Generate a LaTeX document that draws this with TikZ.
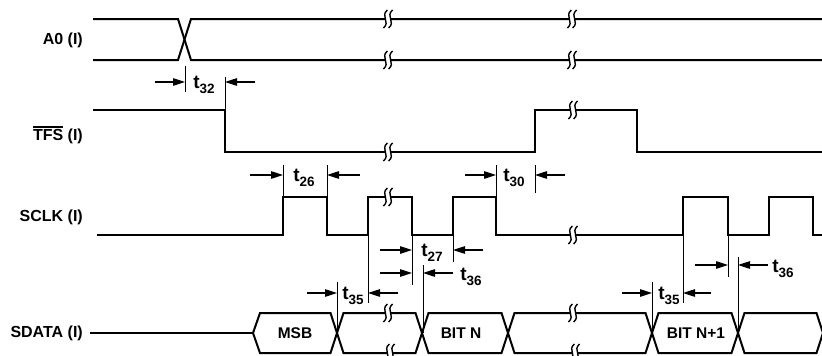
\documentclass[tikz,border=0pt]{standalone}
\usepackage{fontspec}
\setmainfont{Liberation Sans}
\usetikzlibrary{arrows.meta}
\newcommand\tsub[1]{{\fontsize{19}{19}\selectfont t}\raisebox{-4.5pt}{\fontsize{13.5}{13.5}\selectfont #1}}
\newcommand\ovl[1]{{\setbox0\hbox{#1}\rlap{\rule[\dimexpr\ht0+1.6pt\relax]{\wd0}{1.2pt}}\box0\relax}}
\begin{document}
\begin{tikzpicture}[x=1pt,y=-1pt,
  sig/.style={line width=2pt, line join=miter},
  guide/.style={line width=1pt},
  dimarrow/.style={line width=1.1pt,-{Triangle[length=12pt,width=7.5pt]}},
  lbl/.style={font=\fontsize{16}{16}\selectfont\bfseries, anchor=east, inner sep=0pt},
  buslbl/.style={font=\fontsize{15.5}{15.5}\selectfont\bfseries, inner sep=0pt},
  tl/.style={font=\bfseries, inner sep=0pt},
  brk/.pic={
    \fill[white] (-2.6,-2.6) rectangle (2.6,2.6);
    \foreach \d in {-2.6,2.6}
      \draw[line width=1.4pt] (\d+2,-9) .. controls (\d-5.5,-3) and (\d+5.5,3) .. (\d-2,9);
  }]
\useasboundingbox (0,0) rectangle (822,356);
\clip (0,0) rectangle (822,356);

% signal names
\node[lbl] (a0) at (83,40) {A0 (I)};
\node[lbl] (tfs) at (83,135) {\ovl{TFS}\ (I)};
\node[lbl] (sclk) at (83,217) {SCLK (I)};
\node[lbl] (sdata) at (83,333) {SDATA (I)};

% A0
\draw[sig] (93,19) -- (178,19) -- (191,60) -- (822,60);
\draw[sig] (93,60) -- (178,60) -- (191,19) -- (822,19);

% TFS
\draw[sig] (93,110) -- (225,110) -- (225,152) -- (535,152) -- (535,110) -- (637,110) -- (637,152) -- (822,152);

% SCLK
\draw[sig] (97,235) -- (283,235) -- (283,197) -- (327,197) -- (327,235) -- (368,235) -- (368,197) -- (412,197) -- (412,235) -- (453,235) -- (453,197) -- (496,197) -- (496,235) -- (683,235) -- (683,197) -- (728,197) -- (728,235) -- (769,235) -- (769,197) -- (813,197) -- (813,235) -- (822,235);

% SDATA
\draw[sig] (sdata.east) ++(7,0) -- (253,333);
\draw[sig] (253,333) -- (260,313) -- (330.5,313) -- (343.5,353) -- (415.5,353) -- (428.5,313) -- (501.5,313) -- (514.5,353) -- (645.5,353) -- (658.5,313) -- (731.5,313) -- (744.5,353) -- (816.5,353) -- (829.5,313);
\draw[sig] (253,333) -- (260,353) -- (330.5,353) -- (343.5,313) -- (415.5,313) -- (428.5,353) -- (501.5,353) -- (514.5,313) -- (645.5,313) -- (658.5,353) -- (731.5,353) -- (744.5,313) -- (816.5,313) -- (829.5,353);
\node[buslbl] (msb) at (295,333) {MSB};
\node[buslbl] (bitn) at (461,333) {BIT N};
\node[buslbl] (bitn1) at (696,333) {BIT N+1};

% breaks
\foreach \p in {(388,19),(388,60),(572,19),(572,60),(388,152),(573,110),(388,197),(573,235),(388,313),(390,353),(573,313),(575,353)}
  \pic at \p {brk};

% t32
\draw[guide] (185,66) -- (185,92);
\draw[guide] (225,77) -- (225,110);
\draw[dimarrow] (155,82) -- (185,82);
\draw[dimarrow] (255,82) -- (225,82);
\node[tl] (t32) at (204,85) {\tsub{32}};

% t26
\draw[guide] (283,165) -- (283,197);
\draw[guide] (327,165) -- (327,197);
\draw[dimarrow] (250,175) -- (283,175);
\draw[dimarrow] (360,175) -- (327,175);
\node[tl] (t26) at (304,178) {\tsub{26}};

% t30
\draw[guide] (496,165) -- (496,197);
\draw[guide] (535,165) -- (535,193);
\draw[dimarrow] (465,175) -- (496,175);
\draw[dimarrow] (565,175) -- (535,175);
\node[tl] (t30) at (514,178) {\tsub{30}};

% t35 (first)
\draw[guide] (337,282) -- (337,333);
\draw[guide] (368,235) -- (368,303);
\draw[dimarrow] (307,293) -- (337,293);
\draw[dimarrow] (398,293) -- (368,293);
\node[tl] (t35a) at (353,296) {\tsub{35}};

% t27
\draw[guide] (412,235) -- (412,285);
\draw[guide] (453,235) -- (453,262);
\draw[dimarrow] (380,250) -- (412,250);
\draw[dimarrow] (483,250) -- (453,250);
\node[tl] (t27) at (432,253) {\tsub{27}};

% t36 (first)
\draw[guide] (423,265) -- (423,333);
\draw[dimarrow] (380,273) -- (412,273);
\draw[dimarrow] (453,273) -- (423,273);
\node[tl] (t36a) at (471,277) {\tsub{36}};

% t35 (second)
\draw[guide] (652,282) -- (652,333);
\draw[guide] (683,235) -- (683,303);
\draw[dimarrow] (622,293) -- (652,293);
\draw[dimarrow] (711,293) -- (683,293);
\node[tl] (t35b) at (669,296) {\tsub{35}};

% t36 (second)
\draw[guide] (728,235) -- (728,277);
\draw[guide] (738,257) -- (738,333);
\draw[dimarrow] (695,265) -- (728,265);
\draw[dimarrow] (768,265) -- (738,265);
\node[tl] (t36b) at (783,269) {\tsub{36}};
\end{tikzpicture}
\end{document}
